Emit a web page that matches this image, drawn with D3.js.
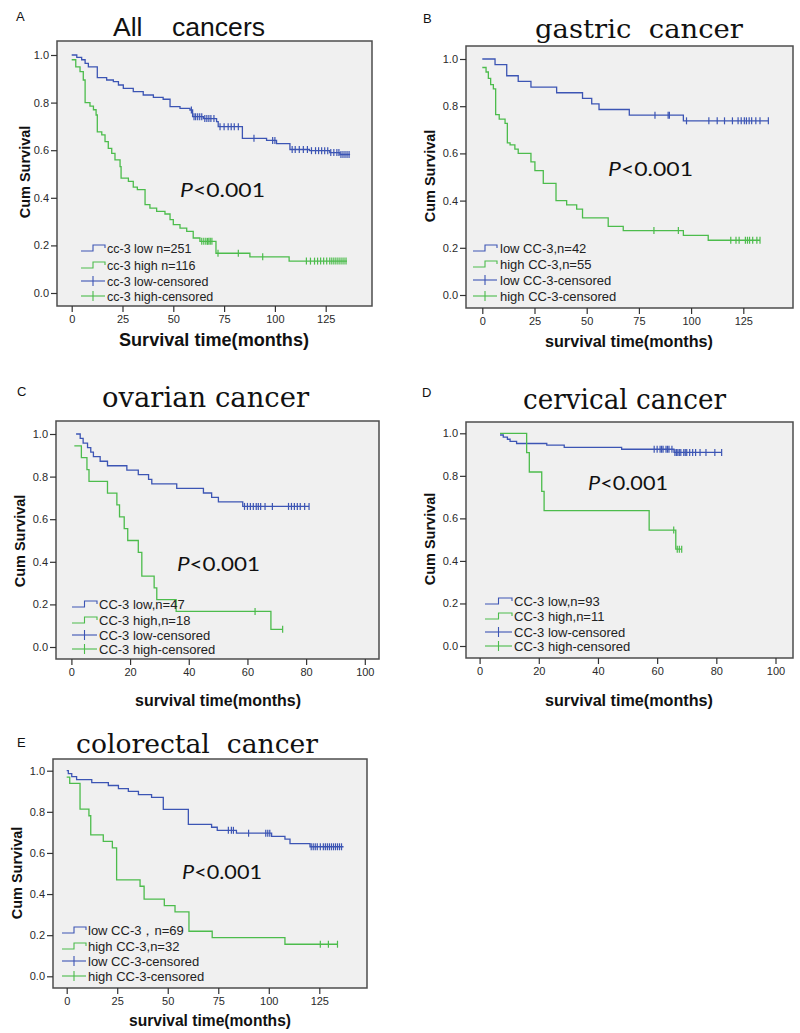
<!DOCTYPE html>
<html><head><meta charset="utf-8">
<script src="https://cdn.jsdelivr.net/npm/d3@7"></script>
<style>
body{margin:0;background:#fff}
svg text{font-family:"Liberation Sans",Arial,sans-serif}
</style>
</head><body>
<svg id="c" width="800" height="1033"></svg>
<script>
// ---------------- DATA ----------------
const yTicks = [0, 0.2, 0.4, 0.6, 0.8, 1.0];
const xTicks125 = [0, 25, 50, 75, 100, 125];
const xTicks100 = [0, 20, 40, 60, 80, 100];

const panelLetters = ["A", "B", "C", "D", "E"];
const panelTitles = ["All    cancers", "gastric  cancer", "ovarian cancer", "cervical cancer", "colorectal  cancer"];
const xAxisTitles = ["Survival time(months)", "survival time(months)", "survival time(months)", "survival time(months)", "survival time(months)"];
const yAxisTitle = "Cum Survival";
const pText = "<0.001";

const legendA = ["cc-3 low n=251", "cc-3 high n=116", "cc-3 low-censored", "cc-3 high-censored"];
const legendB = ["low CC-3,n=42", "high CC-3,n=55", "low CC-3-censored", "high CC-3-censored"];
const legendC = ["CC-3 low,n=47", "CC-3 high,n=18", "CC-3 low-censored", "CC-3 high-censored"];
const legendD = ["CC-3 low,n=93", "CC-3 high,n=11", "CC-3 low-censored", "CC-3 high-censored"];
const legendE = ["low CC-3，n=69", "high CC-3,n=32", "low CC-3-censored", "high CC-3-censored"];

// A: all cancers
const aLowT = [0, 2.5, 4.9, 6.6, 8.2, 12.6, 17.2, 20.5, 23, 25.4, 30.3, 35.2, 40.2, 45, 48.4, 53.3, 58.2, 59.5, 64.8, 71.3, 72.1, 84, 95.9, 100.8, 107.4, 117, 127, 132, 137];
const aLowS = [1, 0.99, 0.98, 0.965, 0.95, 0.905, 0.895, 0.888, 0.874, 0.86, 0.846, 0.832, 0.822, 0.814, 0.783, 0.776, 0.769, 0.741, 0.733, 0.72, 0.699, 0.65, 0.641, 0.628, 0.603, 0.598, 0.59, 0.582, 0.582];
const aLowCens = [58.9, 60.2, 61, 62, 63, 64, 65.5, 66.5, 67.5, 68.5, 70, 73, 75, 77, 78.5, 80, 82, 89.7, 98.9, 100, 108.5, 110, 112, 114, 116, 118, 120, 121.5, 123, 124.5, 126, 127.5, 129, 130.5, 131.5, 132.5, 133.5, 134.5, 135.5, 136.5];
const aHighT = [0, 2, 4.1, 5.7, 6.6, 9, 10.7, 12, 12.6, 14.8, 16.4, 18, 19.7, 21.3, 23.8, 24.3, 27.9, 30.3, 32.3, 36.1, 38.5, 41.8, 45.9, 48.4, 50, 53.3, 56.6, 59.8, 63.1, 71, 87.7, 107, 135.5];
const aHighS = [0.98, 0.95, 0.93, 0.895, 0.80, 0.785, 0.77, 0.748, 0.677, 0.664, 0.636, 0.608, 0.587, 0.559, 0.531, 0.483, 0.469, 0.445, 0.434, 0.371, 0.357, 0.343, 0.332, 0.308, 0.287, 0.273, 0.259, 0.231, 0.217, 0.167, 0.152, 0.134, 0.134];
const aHighCens = [64, 65, 66, 66.8, 67.5, 68.2, 69, 72, 82, 94, 115.5, 117.5, 119.5, 121, 122.5, 124, 125.5, 127, 128, 129, 130, 131, 132, 133, 134, 135];

// B: gastric cancer
const bLowT = [0, 6.1, 11.7, 17.2, 23.3, 35.6, 48, 52.4, 55.9, 70.4, 96.3, 137];
const bLowS = [1, 0.976, 0.929, 0.905, 0.881, 0.857, 0.833, 0.810, 0.786, 0.762, 0.738, 0.738];
const bLowCens = [82.7, 89, 89.6, 97.8, 108.5, 112.5, 116, 119.8, 122.5, 124, 125.5, 126.5, 127.8, 129, 131, 133, 137];
const bHighT = [0, 1.8, 2.9, 4, 5.3, 6.4, 8.1, 10.9, 12, 13.3, 15.6, 17.2, 23.3, 25.2, 29.2, 35.3, 40.4, 45.2, 48, 60.3, 67.5, 96.3, 108.2, 133];
const bHighS = [0.964, 0.945, 0.918, 0.891, 0.873, 0.764, 0.745, 0.727, 0.645, 0.636, 0.618, 0.6, 0.564, 0.527, 0.473, 0.4, 0.382, 0.364, 0.327, 0.291, 0.273, 0.253, 0.232, 0.232];
const bHighCens = [82.2, 93.9, 119, 121.5, 123, 126, 127, 128, 129.5, 131.5, 133];

// C: ovarian cancer
const cLowT = [1.6, 3, 4, 5.5, 6.6, 7.5, 9.8, 12.3, 18.9, 22.8, 26.3, 27.4, 35.9, 45, 47.8, 50.1, 58.4, 81];
const cLowS = [1, 0.979, 0.957, 0.936, 0.915, 0.894, 0.872, 0.851, 0.830, 0.809, 0.787, 0.766, 0.745, 0.723, 0.702, 0.681, 0.660, 0.660];
const cLowCens = [59, 60, 61, 62, 63, 63.7, 64.5, 66, 68.5, 74, 75, 76, 77, 78, 79.5, 81];
const cHighT = [1, 3.4, 5.3, 6, 12.3, 15.5, 16.4, 18, 19.2, 22.8, 24, 28.2, 29.1, 35.7, 68, 72];
const cHighS = [0.944, 0.889, 0.833, 0.778, 0.722, 0.667, 0.611, 0.556, 0.5, 0.444, 0.333, 0.278, 0.222, 0.167, 0.083, 0.083];
const cHighCens = [62.6, 72];

// D: cervical cancer
const dLowT = [6.9, 8, 9.4, 10.3, 12.5, 22.7, 28.6, 48, 65.7, 81.8];
const dLowS = [0.992, 0.982, 0.972, 0.962, 0.952, 0.944, 0.934, 0.925, 0.91, 0.91];
const dLowCens = [59, 60, 61, 61.5, 62, 63, 63.5, 64, 65, 66, 66.5, 67, 67.5, 68, 69, 69.5, 70, 71, 72, 73, 74.5, 76.5, 79.5, 81.8];
const dHighT = [6.9, 15.9, 16.8, 21, 21.8, 57.3, 66.3, 68.3];
const dHighS = [1, 0.909, 0.818, 0.727, 0.636, 0.545, 0.455, 0.455];
const dHighCens = [65.6, 66.8, 67.5, 68.3];

// E: colorectal cancer
const eLowT = [0, 0.8, 2.5, 4.9, 12.4, 20.6, 25.6, 30.5, 35.5, 42, 47.8, 60.2, 71.7, 74.5, 84, 101.4, 108, 110.5, 120.4, 137];
const eLowS = [1, 0.986, 0.971, 0.957, 0.942, 0.928, 0.913, 0.899, 0.884, 0.870, 0.812, 0.739, 0.725, 0.710, 0.696, 0.681, 0.667, 0.645, 0.630, 0.630];
const eLowCens = [80, 81.5, 82.5, 90, 98.5, 99.5, 100.5, 121, 122, 123, 124, 125.5, 127, 128, 129, 130, 131, 132, 133, 134, 135, 136];
const eHighT = [0, 1.5, 6.6, 11, 11.9, 18.1, 22.6, 24.7, 36.3, 38.3, 48.3, 53.6, 60.5, 72, 108, 134];
const eHighS = [0.969, 0.938, 0.813, 0.781, 0.688, 0.656, 0.625, 0.469, 0.438, 0.375, 0.344, 0.313, 0.219, 0.188, 0.156, 0.156];
const eHighCens = [125.5, 129.5, 134];

// ---------------- LAYOUT ----------------
const BLUE = "#3c55b4", GREEN = "#4cbc4c";
const panels = [
  { frame:[57,41,372,306], xDom:[0,125], xr:[71.7,325.7], yr:[293,55], xt:xTicks125,
    letter:[16,21], title:{x:113,y:36,w:152,size:26,serif:false},
    ylab:[25,172], xlab:{cx:214,y:346,size:18,w:190}, p:{x:180,y:197,w:85},
    leg:{rows:[248,265,281,296],x0:81,x1:105,tx:107,size:12.5,labels:legendA},
    low:[aLowT,aLowS,aLowCens], high:[aHighT,aHighS,aHighCens] },
  { frame:[466,46,793,308], xDom:[0,125], xr:[482.3,743.3], yr:[295,59], xt:xTicks125,
    letter:[423,23], title:{x:535,y:38,w:208,size:26,serif:true},
    ylab:[430,176], xlab:{cx:629,y:347,size:16,w:168}, p:{x:608,y:176,w:85},
    leg:{rows:[248,264,280,296],x0:473,x1:497,tx:500,size:13,labels:legendB},
    low:[bLowT,bLowS,bLowCens], high:[bHighT,bHighS,bHighCens] },
  { frame:[56,421,379,659], xDom:[0,100], xr:[71.4,364.8], yr:[647,434], xt:xTicks100,
    letter:[17,396], title:{x:102,y:407,w:207,size:27,serif:true},
    ylab:[20,541], xlab:{cx:218,y:706,size:16,w:166}, p:{x:177,y:571,w:83},
    leg:{rows:[604,620,635,649],x0:72,x1:97,tx:99,size:13,labels:legendC},
    low:[cLowT,cLowS,cLowCens], high:[cHighT,cHighS,cHighCens] },
  { frame:[466,422,793,658], xDom:[0,100], xr:[479.6,775.5], yr:[646,433.3], xt:xTicks100,
    letter:[422,397], title:{x:523,y:409,w:203,size:27,serif:true},
    ylab:[430,539], xlab:{cx:629,y:706,size:16,w:168}, p:{x:588,y:490,w:80},
    leg:{rows:[601,616,632,646],x0:485,x1:512,tx:514,size:13,labels:legendD},
    low:[dLowT,dLowS,dLowCens], high:[dHighT,dHighS,dHighCens] },
  { frame:[53,759,367,988], xDom:[0,125], xr:[66.7,319.3], yr:[976.3,770.7], xt:xTicks125,
    letter:[17,747], title:{x:76,y:753,w:242,size:26,serif:true},
    ylab:[17,873], xlab:{cx:210,y:1026,size:16,w:162}, p:{x:182,y:879,w:80},
    leg:{rows:[930,946,961,976],x0:62,x1:86,tx:88,size:13,labels:legendE},
    low:[eLowT,eLowS,eLowCens], high:[eHighT,eHighS,eHighCens] }
];

// ---------------- DRAW ----------------
const svg = d3.select("#c");
const stepVal = (ts, ss, c) => { let v = ss[0]; for (let i = 0; i < ts.length; i++) if (ts[i] <= c) v = ss[i]; return v; };

panels.forEach((P, i) => {
  const g = svg.append("g");
  const [fx0, fy0, fx1, fy1] = P.frame;
  const x = d3.scaleLinear().domain(P.xDom).range(P.xr);
  const y = d3.scaleLinear().domain([0, 1]).range(P.yr);

  g.append("rect").attr("x", fx0).attr("y", fy0).attr("width", fx1 - fx0).attr("height", fy1 - fy0)
    .attr("fill", "#f0f0f0").attr("stroke", "#4d4d4d").attr("stroke-width", 1.5);

  const ya = g.append("g").attr("transform", `translate(${fx0},0)`)
    .call(d3.axisLeft(y).tickValues(yTicks).tickFormat(d3.format(".1f")).tickSize(6).tickPadding(2));
  const xa = g.append("g").attr("transform", `translate(0,${fy1})`)
    .call(d3.axisBottom(x).tickValues(P.xt).tickSize(6).tickPadding(3));
  [ya, xa].forEach(a => {
    a.select(".domain").remove();
    a.selectAll("line").attr("stroke", "#333").attr("stroke-width", 1.2);
    a.selectAll("text").attr("fill", "#2a2a2a").style("font-size", "11px")
      .style("font-family", '"Liberation Sans",Arial,sans-serif');
  });

  const line = d3.line().curve(d3.curveStepAfter).x(d => x(d[0])).y(d => y(d[1]));
  [[P.low, BLUE], [P.high, GREEN]].forEach(([ser, col]) => {
    const [ts, ss, cens] = ser;
    g.append("path").attr("d", line(ts.map((t, k) => [t, ss[k]])))
      .attr("fill", "none").attr("stroke", col).attr("stroke-width", 1.3);
    g.selectAll(null).data(cens).enter().append("line")
      .attr("x1", d => x(d)).attr("x2", d => x(d))
      .attr("y1", d => y(stepVal(ts, ss, d)) - 3.5).attr("y2", d => y(stepVal(ts, ss, d)) + 3.5)
      .attr("stroke", col).attr("stroke-width", 1.2);
  });

  // legend
  const L = P.leg;
  L.rows.forEach((ry, k) => {
    const col = (k % 2 === 0) ? BLUE : GREEN;
    const mid = (L.x0 + L.x1) / 2;
    if (k < 2) {
      g.append("path").attr("d", `M${L.x0},${ry + 3}H${mid}V${ry - 3}H${L.x1}V${ry}`)
        .attr("fill", "none").attr("stroke", col).attr("stroke-width", 1.1);
    } else {
      g.append("line").attr("x1", L.x0).attr("x2", L.x1).attr("y1", ry).attr("y2", ry).attr("stroke", col).attr("stroke-width", 1.1);
      g.append("line").attr("x1", mid).attr("x2", mid).attr("y1", ry - 5).attr("y2", ry + 5).attr("stroke", col).attr("stroke-width", 1.1);
    }
    g.append("text").attr("x", L.tx).attr("y", ry + L.size * 0.36).attr("fill", "#222")
      .style("font-size", L.size + "px").text(L.labels[k]);
  });

  // panel letter
  g.append("text").attr("x", P.letter[0]).attr("y", P.letter[1]).style("font-size", "13px").attr("fill", "#111").text(panelLetters[i]);

  // title
  const T = P.title;
  g.append("text").attr("x", T.x).attr("y", T.y)
    .attr("xml:space", "preserve").style("white-space", "pre")
    .style("font-family", T.serif ? '"DejaVu Serif","Liberation Serif",serif' : '"Liberation Sans",Arial,sans-serif')
    .style("font-size", T.size + "px").attr("fill", "#111")
    .attr("textLength", T.w).attr("lengthAdjust", "spacingAndGlyphs")
    .text(panelTitles[i]);

  // y axis title
  g.append("text").attr("transform", `translate(${P.ylab[0]},${P.ylab[1]}) rotate(-90)`)
    .attr("text-anchor", "middle").attr("dy", "0.35em").style("font-size", "14.5px").style("font-weight", "bold")
    .attr("fill", "#111").text(yAxisTitle);

  // x axis title
  const X = P.xlab;
  g.append("text").attr("x", X.cx - X.w / 2).attr("y", X.y).style("font-size", X.size + "px").style("font-weight", "bold")
    .attr("fill", "#111").attr("textLength", X.w).attr("lengthAdjust", "spacingAndGlyphs").text(xAxisTitles[i]);

  // P value
  const pt = g.append("text").attr("x", P.p.x).attr("y", P.p.y).style("font-size", "20px")
    .style("font-family", 'Lato,"Open Sans",sans-serif').attr("fill", "#111")
    .attr("textLength", P.p.w).attr("lengthAdjust", "spacingAndGlyphs");
  pt.append("tspan").style("font-style", "italic").text("P");
  pt.append("tspan").text(pText);
});
</script>
</body></html>
